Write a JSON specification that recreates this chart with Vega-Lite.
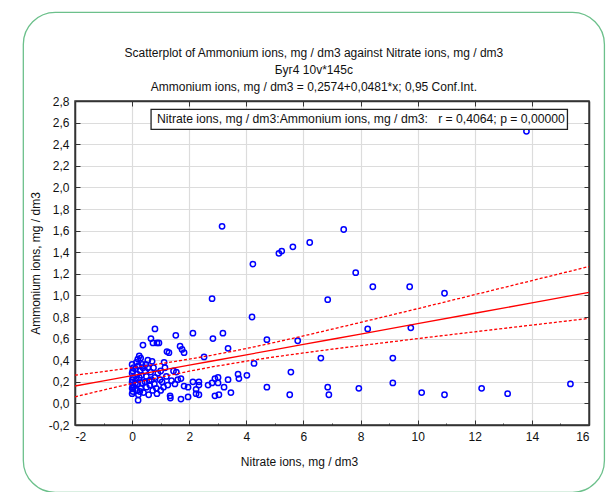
{
  "$schema": "https://vega.github.io/schema/vega-lite/v6.json",
  "width": 514,
  "height": 324,
  "autosize": {"type": "none"},
  "padding": {"left": 75, "top": 101, "right": 18, "bottom": 67},
  "background": "white",
  "title": {
    "text": ["Scatterplot of Ammonium ions, mg / dm3 against Nitrate ions, mg / dm3", "Буг4 10v*145c", "Ammonium ions, mg / dm3 = 0,2574+0,0481*x; 0,95 Conf.Int."],
    "font": "Liberation Sans",
    "fontSize": 12,
    "fontWeight": "normal",
    "color": "#111",
    "lineHeight": 17,
    "offset": -82,
    "anchor": "middle",
    "frame": "bounds"
  },
  "datasets": {
    "pts": [
      {"n":0.0,"a":0.36},{"n":0.02,"a":0.30},{"n":0.0,"a":0.28},{"n":0.03,"a":0.24},{"n":0.0,"a":0.20},{"n":0.02,"a":0.17},{"n":0.0,"a":0.14},{"n":0.03,"a":0.11},{"n":0.0,"a":0.09},{"n":0.05,"a":0.33},{"n":0.04,"a":0.15},{"n":0.01,"a":0.22},
      {"n":0.15,"a":0.38},{"n":0.2,"a":0.41},{"n":0.25,"a":0.44},{"n":0.3,"a":0.42},{"n":0.12,"a":0.32},{"n":0.18,"a":0.27},{"n":0.22,"a":0.35},{"n":0.28,"a":0.30},{"n":0.15,"a":0.22},{"n":0.2,"a":0.18},{"n":0.25,"a":0.24},{"n":0.3,"a":0.14},{"n":0.18,"a":0.12},{"n":0.22,"a":0.08},{"n":0.21,"a":0.03},{"n":0.35,"a":0.19},{"n":0.32,"a":0.26},{"n":0.38,"a":0.54},{"n":0.38,"a":0.33},{"n":0.12,"a":0.19},{"n":0.27,"a":0.11},{"n":0.35,"a":0.36},{"n":0.4,"a":0.10},
      {"n":0.45,"a":0.30},{"n":0.5,"a":0.25},{"n":0.55,"a":0.33},{"n":0.6,"a":0.21},{"n":0.62,"a":0.17},{"n":0.5,"a":0.15},{"n":0.45,"a":0.20},{"n":0.55,"a":0.40},{"n":0.7,"a":0.39},{"n":0.65,"a":0.29},{"n":0.75,"a":0.33},{"n":0.8,"a":0.24},{"n":0.85,"a":0.14},{"n":0.87,"a":0.09},{"n":0.72,"a":0.12},{"n":0.66,"a":0.60},{"n":0.73,"a":0.56},{"n":0.80,"a":0.69},{"n":0.87,"a":0.56},{"n":0.94,"a":0.56},{"n":0.58,"a":0.08},{"n":0.48,"a":0.36},{"n":0.78,"a":0.18},{"n":0.9,"a":0.28},{"n":0.68,"a":0.22},
      {"n":1.0,"a":0.30},{"n":1.05,"a":0.20},{"n":1.1,"a":0.15},{"n":1.15,"a":0.33},{"n":1.2,"a":0.25},{"n":1.22,"a":0.48},{"n":1.29,"a":0.47},{"n":1.33,"a":0.07},{"n":1.34,"a":0.05},{"n":1.25,"a":0.17},{"n":1.38,"a":0.21},{"n":1.45,"a":0.30},{"n":1.5,"a":0.18},{"n":1.53,"a":0.63},{"n":1.55,"a":0.29},{"n":1.6,"a":0.22},{"n":1.68,"a":0.53},{"n":1.75,"a":0.50},{"n":1.82,"a":0.47},{"n":1.0,"a":0.12},{"n":1.12,"a":0.38},{"n":0.98,"a":0.22},
      {"n":1.71,"a":0.23},{"n":1.82,"a":0.16},{"n":1.96,"a":0.15},{"n":2.13,"a":0.20},{"n":2.34,"a":0.20},{"n":2.34,"a":0.17},{"n":2.24,"a":0.13},{"n":2.24,"a":0.09},{"n":2.34,"a":0.08},{"n":1.96,"a":0.06},{"n":1.71,"a":0.04},{"n":2.66,"a":0.17},{"n":2.80,"a":0.19},{"n":2.90,"a":0.23},{"n":3.01,"a":0.24},{"n":3.01,"a":0.19},{"n":3.22,"a":0.15},{"n":3.46,"a":0.10},{"n":3.36,"a":0.22},{"n":3.71,"a":0.27},{"n":3.74,"a":0.23},{"n":4.02,"a":0.26},{"n":4.27,"a":0.37},{"n":2.90,"a":0.07},{"n":3.04,"a":0.08},
      {"n":2.13,"a":0.65},{"n":2.83,"a":0.60},{"n":3.18,"a":0.65},{"n":3.36,"a":0.51},{"n":2.52,"a":0.43},
      {"n":13.81,"a":2.52},{"n":3.15,"a":1.64},{"n":7.41,"a":1.61},{"n":6.22,"a":1.49},{"n":5.63,"a":1.45},{"n":5.24,"a":1.41},{"n":5.14,"a":1.39},{"n":4.23,"a":1.29},{"n":7.83,"a":1.21},{"n":8.43,"a":1.08},{"n":2.80,"a":0.97},{"n":6.85,"a":0.96},{"n":4.20,"a":0.80},{"n":9.72,"a":1.08},{"n":10.94,"a":1.02},{"n":8.25,"a":0.69},{"n":9.76,"a":0.70},{"n":5.80,"a":0.58},{"n":6.61,"a":0.42},{"n":9.13,"a":0.42},{"n":5.56,"a":0.29},{"n":5.52,"a":0.08},{"n":6.85,"a":0.15},{"n":6.89,"a":0.08},{"n":7.94,"a":0.14},{"n":9.13,"a":0.19},{"n":10.14,"a":0.10},{"n":10.94,"a":0.08},{"n":12.24,"a":0.14},{"n":13.15,"a":0.09},{"n":15.35,"a":0.18},{"n":4.72,"a":0.59},{"n":4.72,"a":0.15}
    ],
    "fit": [
      {"x":-2,"fit":0.1612,"lo":0.061,"hi":0.261},
      {"x":-1,"fit":0.2093,"lo":0.124,"hi":0.295},
      {"x":0,"fit":0.2574,"lo":0.185,"hi":0.330},
      {"x":1,"fit":0.3055,"lo":0.243,"hi":0.368},
      {"x":2,"fit":0.3536,"lo":0.298,"hi":0.410},
      {"x":2.76,"fit":0.3902,"lo":0.336,"hi":0.444},
      {"x":4,"fit":0.4498,"lo":0.391,"hi":0.508},
      {"x":5,"fit":0.4979,"lo":0.431,"hi":0.565},
      {"x":6,"fit":0.5460,"lo":0.467,"hi":0.625},
      {"x":7,"fit":0.5941,"lo":0.502,"hi":0.687},
      {"x":8,"fit":0.6422,"lo":0.535,"hi":0.750},
      {"x":10,"fit":0.7384,"lo":0.600,"hi":0.877},
      {"x":12,"fit":0.8346,"lo":0.663,"hi":1.007},
      {"x":14,"fit":0.9308,"lo":0.725,"hi":1.137},
      {"x":16,"fit":1.0270,"lo":0.787,"hi":1.267}
    ]
  },
  "layer": [
    {
      "data": {"values": [{"k": 1}]},
      "mark": {"type": "rect", "fill": null, "fillOpacity": 0, "stroke": "#6cc08b", "strokeWidth": 1.3, "cornerRadius": 32, "clip": false},
      "encoding": {
        "x": {"datum": -3.81, "type": "quantitative", "scale": {"domain": [-2, 16], "nice": false, "zero": false}, "axis": null},
        "x2": {"datum": 16.54},
        "y": {"datum": 3.62, "type": "quantitative", "scale": {"domain": [-0.2, 2.8], "nice": false, "zero": false}, "axis": null},
        "y2": {"datum": -0.824}
      }
    },
    {
      "data": {"name": "pts"},
      "mark": {"type": "point", "shape": "circle", "filled": false, "color": "#0000ff", "size": 28, "strokeWidth": 1.5, "opacity": 1},
      "encoding": {
        "x": {"field": "n", "type": "quantitative", "title": "Nitrate ions, mg / dm3",
          "axis": {"orient": "bottom", "values": [-2,0,2,4,6,8,10,12,14,16], "grid": true, "tickSize": -5, "labelPadding": 11, "titlePadding": 14, "titleX": 224,
            "labelExpr": "replace(format(datum.value, 'd'), '\u2212', '-')"}},
        "y": {"field": "a", "type": "quantitative", "title": "Ammonium ions, mg / dm3",
          "axis": {"orient": "left", "values": [-0.2,0,0.2,0.4,0.6,0.8,1,1.2,1.4,1.6,1.8,2,2.2,2.4,2.6,2.8], "grid": true, "tickSize": -5, "labelPadding": 11, "titlePadding": 6,
            "labelExpr": "replace(replace(format(datum.value, '.1f'), '.', ','), '\u2212', '-')"}}
      }
    },
    {
      "data": {"name": "fit"},
      "mark": {"type": "line", "color": "#ff0000", "strokeWidth": 1.3, "strokeDash": [3, 2]},
      "encoding": {
        "x": {"field": "x", "type": "quantitative",
          "axis": {"orient": "bottom", "values": [-1,1,3,5,7,9,11,13,15], "grid": false, "labels": false, "domain": false, "tickSize": -2, "title": null}},
        "y": {"field": "hi", "type": "quantitative", "axis": null}
      }
    },
    {
      "data": {"name": "fit"},
      "mark": {"type": "line", "color": "#ff0000", "strokeWidth": 1.3, "strokeDash": [3, 2]},
      "encoding": {
        "x": {"field": "x", "type": "quantitative", "axis": null},
        "y": {"field": "lo", "type": "quantitative", "axis": null}
      }
    },
    {
      "data": {"name": "fit"},
      "mark": {"type": "line", "color": "#ff0000", "strokeWidth": 1.3},
      "encoding": {
        "x": {"field": "x", "type": "quantitative",
          "axis": {"orient": "top", "values": [-2,0,2,4,6,8,10,12,14,16], "grid": false, "labels": false, "tickSize": -5, "title": null}},
        "y": {"field": "fit", "type": "quantitative",
          "axis": {"orient": "right", "values": [-0.2,0,0.2,0.4,0.6,0.8,1,1.2,1.4,1.6,1.8,2,2.2,2.4,2.6,2.8], "grid": false, "labels": false, "tickSize": -5, "title": null}}
      }
    },
    {
      "data": {"values": [{"k": 1}]},
      "mark": {"type": "rect", "fill": "white", "stroke": "#222", "strokeWidth": 1.3},
      "encoding": {
        "x": {"datum": 0.664, "type": "quantitative", "axis": null},
        "x2": {"datum": 15.245},
        "y": {"datum": 2.722, "type": "quantitative", "axis": null},
        "y2": {"datum": 2.537}
      }
    },
    {
      "data": {"values": [{"label": "Nitrate ions, mg / dm3:Ammonium ions, mg / dm3:\u00a0\u00a0\u00a0r = 0,4064; p = 0,00000"}]},
      "mark": {"type": "text", "align": "left", "baseline": "middle", "font": "Liberation Sans", "fontSize": 12.2, "color": "#111"},
      "encoding": {
        "x": {"datum": 0.874, "type": "quantitative", "axis": null},
        "y": {"datum": 2.632, "type": "quantitative", "axis": null},
        "text": {"field": "label"}
      }
    }
  ],
  "resolve": {"axis": {"x": "independent", "y": "independent"}},
  "config": {
    "view": {"stroke": "#333", "strokeWidth": 1.5},
    "axis": {
      "labelFont": "Liberation Sans",
      "labelFontSize": 12,
      "labelColor": "#111",
      "titleFont": "Liberation Sans",
      "titleFontSize": 12,
      "titleFontWeight": "normal",
      "titleColor": "#111",
      "gridColor": "#dcdcdc",
      "gridWidth": 1.2,
      "domainColor": "#333",
      "domainWidth": 1.5,
      "tickColor": "#333"
    }
  }
}
